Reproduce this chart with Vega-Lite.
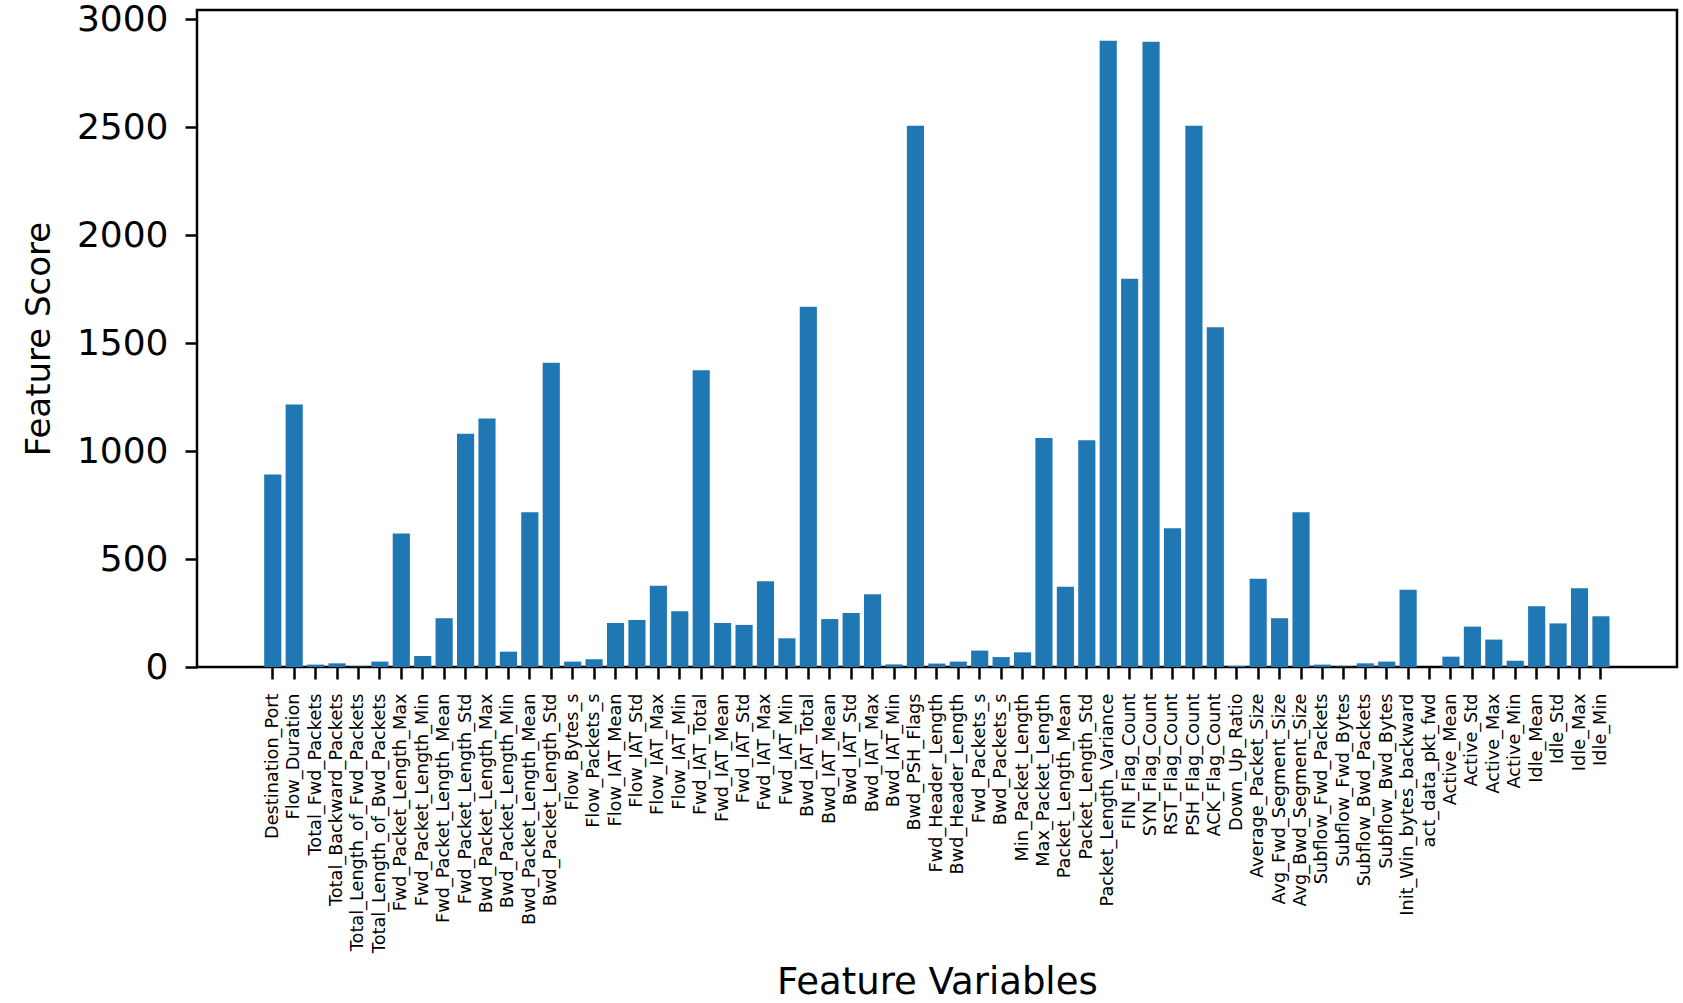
{
  "$schema": "https://vega.github.io/schema/vega-lite/v6.json",
  "width": 1480,
  "height": 657,
  "autosize": {"type": "none"},
  "padding": {"left": 197, "top": 10, "right": 6, "bottom": 336},
  "background": "white",
  "config": {
    "font": "DejaVu Sans",
    "view": {"stroke": "black", "strokeWidth": 2.5},
    "axis": {"grid": false, "domain": false, "tickColor": "black", "tickWidth": 2.5, "tickSize": 12, "labelColor": "black", "titleColor": "black", "labelFont": "DejaVu Sans", "titleFont": "DejaVu Sans", "titleFontWeight": "normal"}
  },
  "data": {
    "values": [
      {"feature": "Destination_Port", "score": 892},
      {"feature": "Flow_Duration", "score": 1216},
      {"feature": "Total_Fwd_Packets", "score": 11},
      {"feature": "Total_Backward_Packets", "score": 17},
      {"feature": "Total_Length_of_Fwd_Packets", "score": 2},
      {"feature": "Total_Length_of_Bwd_Packets", "score": 25},
      {"feature": "Fwd_Packet_Length_Max", "score": 618},
      {"feature": "Fwd_Packet_Length_Min", "score": 51},
      {"feature": "Fwd_Packet_Length_Mean", "score": 226},
      {"feature": "Fwd_Packet_Length_Std", "score": 1081},
      {"feature": "Bwd_Packet_Length_Max", "score": 1151},
      {"feature": "Bwd_Packet_Length_Min", "score": 71},
      {"feature": "Bwd_Packet_Length_Mean", "score": 717},
      {"feature": "Bwd_Packet_Length_Std", "score": 1410},
      {"feature": "Flow_Bytes_s", "score": 25},
      {"feature": "Flow_Packets_s", "score": 36},
      {"feature": "Flow_IAT_Mean", "score": 204},
      {"feature": "Flow_IAT_Std", "score": 218},
      {"feature": "Flow_IAT_Max", "score": 377},
      {"feature": "Flow_IAT_Min", "score": 258},
      {"feature": "Fwd_IAT_Total", "score": 1375},
      {"feature": "Fwd_IAT_Mean", "score": 204},
      {"feature": "Fwd_IAT_Std", "score": 195},
      {"feature": "Fwd_IAT_Max", "score": 397},
      {"feature": "Fwd_IAT_Min", "score": 133},
      {"feature": "Bwd_IAT_Total", "score": 1669},
      {"feature": "Bwd_IAT_Mean", "score": 222},
      {"feature": "Bwd_IAT_Std", "score": 250},
      {"feature": "Bwd_IAT_Max", "score": 337},
      {"feature": "Bwd_IAT_Min", "score": 12},
      {"feature": "Bwd_PSH_Flags", "score": 2508},
      {"feature": "Fwd_Header_Length", "score": 16},
      {"feature": "Bwd_Header_Length", "score": 25},
      {"feature": "Fwd_Packets_s", "score": 76},
      {"feature": "Bwd_Packets_s", "score": 46},
      {"feature": "Min_Packet_Length", "score": 68},
      {"feature": "Max_Packet_Length", "score": 1061},
      {"feature": "Packet_Length_Mean", "score": 372},
      {"feature": "Packet_Length_Std", "score": 1051},
      {"feature": "Packet_Length_Variance", "score": 2902},
      {"feature": "FIN_Flag_Count", "score": 1799},
      {"feature": "SYN_Flag_Count", "score": 2897},
      {"feature": "RST_Flag_Count", "score": 643},
      {"feature": "PSH_Flag_Count", "score": 2508},
      {"feature": "ACK_Flag_Count", "score": 1574},
      {"feature": "Down_Up_Ratio", "score": 5},
      {"feature": "Average_Packet_Size", "score": 409},
      {"feature": "Avg_Fwd_Segment_Size", "score": 226},
      {"feature": "Avg_Bwd_Segment_Size", "score": 717},
      {"feature": "Subflow_Fwd_Packets", "score": 11},
      {"feature": "Subflow_Fwd_Bytes", "score": 2},
      {"feature": "Subflow_Bwd_Packets", "score": 17},
      {"feature": "Subflow_Bwd_Bytes", "score": 25},
      {"feature": "Init_Win_bytes_backward", "score": 358},
      {"feature": "act_data_pkt_fwd", "score": 0},
      {"feature": "Active_Mean", "score": 48},
      {"feature": "Active_Std", "score": 187},
      {"feature": "Active_Max", "score": 127},
      {"feature": "Active_Min", "score": 29},
      {"feature": "Idle_Mean", "score": 281},
      {"feature": "Idle_Std", "score": 202},
      {"feature": "Idle_Max", "score": 365},
      {"feature": "Idle_Min", "score": 235}
    ]
  },
  "mark": {"type": "bar", "color": "#1f77b4"},
  "encoding": {
    "x": {
      "field": "feature",
      "type": "nominal",
      "sort": null,
      "scale": {"paddingInner": 0.2, "paddingOuter": 0, "range": [67.2, 1412.5]},
      "axis": {
        "title": "Feature Variables",
        "titleFontSize": 37,
        "titleY": 326,
        "titleBaseline": "alphabetic",
        "labelFontSize": 17.7,
        "labelAngle": -90,
        "labelPadding": 14,
        "labelOverlap": false,
        "labelLimit": 0,
        "bandPosition": 0.5
      }
    },
    "y": {
      "field": "score",
      "type": "quantitative",
      "scale": {"domain": [0, 3044], "nice": false, "zero": true},
      "axis": {
        "title": "Feature Score",
        "titleFontSize": 34,
        "titlePadding": 20,
        "labelFontSize": 36,
        "labelPadding": 17,
        "values": [0, 500, 1000, 1500, 2000, 2500, 3000],
        "format": "d"
      }
    }
  }
}
